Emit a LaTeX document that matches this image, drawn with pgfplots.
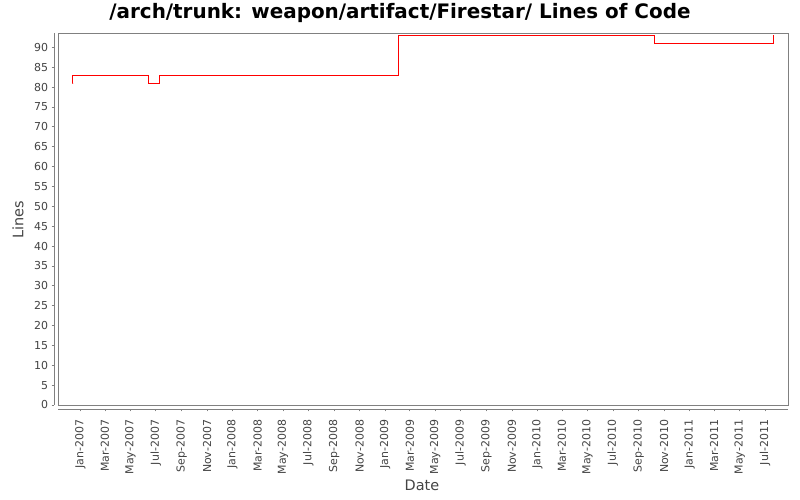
\documentclass[border=0pt]{standalone}
\usepackage{fontspec}
\setmainfont{DejaVu Sans}
\usepackage{pgfplots}
\pgfplotsset{compat=1.18}
\definecolor{axgray}{HTML}{808080}
\definecolor{lblgray}{HTML}{444444}
\begin{document}
\begin{tikzpicture}[x=1bp,y=1bp]
\useasboundingbox[fill=white] (0,0) rectangle (800,500);
\node[font=\bfseries\fontsize{20}{23}\selectfont, text=black] at (400,487) {/arch/trunk: weapon/artifact/Firestar/ Lines of Code};
\node[font=\fontsize{14.5}{17}\selectfont, text=lblgray] at (422,15) {Date};
\node[font=\fontsize{14.5}{17}\selectfont, text=lblgray, rotate=90] at (18,280) {Lines};
\begin{axis}[
	at={(58bp,95bp)}, anchor=south west,
	scale only axis, width=730bp, height=372bp,
	xmin=-53.5, xmax=1697,
	ymin=0, ymax=93.6,
	axis x line*=bottom, axis y line*=left,
	axis x line shift=4bp, axis y line shift=4bp,
	axis line style={axgray, -, line width=0.8bp},
	tick align=outside, major tick length=2.5bp,
	tick style={axgray, line width=0.6bp},
	ytick={0,5,...,90},
	xtick={0,59,120,181,243,304,365,425,486,547,609,670,731,790,851,912,974,1035,1096,1155,1216,1277,1339,1400,1461,1520,1581,1642},
	xticklabels={Jan-2007,Mar-2007,May-2007,Jul-2007,Sep-2007,Nov-2007,Jan-2008,Mar-2008,May-2008,Jul-2008,Sep-2008,Nov-2008,Jan-2009,Mar-2009,May-2009,Jul-2009,Sep-2009,Nov-2009,Jan-2010,Mar-2010,May-2010,Jul-2010,Sep-2010,Nov-2010,Jan-2011,Mar-2011,May-2011,Jul-2011},
	/pgf/number format/assume math mode=true,
	ticklabel style={font=\fontsize{11}{13}\selectfont, text=lblgray},
	xticklabel style={rotate=90, anchor=east},
	xticklabel shift=5bp,
	clip=false,
	]
	\draw[axgray, line width=0.8bp] (rel axis cs:0,0) rectangle (rel axis cs:1,1);
	\addplot[const plot, red, line width=1bp] coordinates {
		(-18.2,81) (-17.8,83) (163,81) (189.4,83) (763.5,93) (1378,91) (1662,93)
	};
\end{axis}
\end{tikzpicture}
\end{document}
